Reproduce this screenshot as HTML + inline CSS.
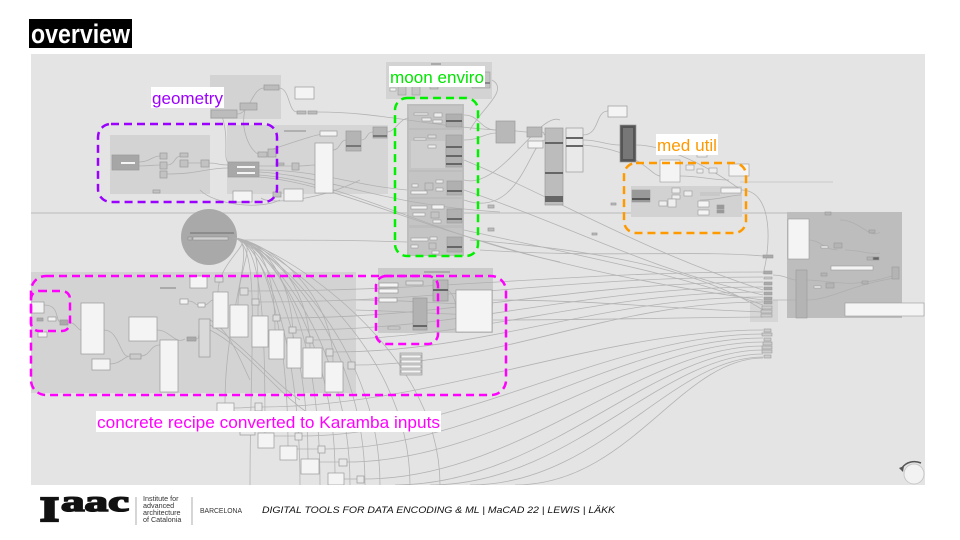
<!DOCTYPE html>
<html><head><meta charset="utf-8"><style>
html,body{margin:0;padding:0;background:#fff;width:960px;height:540px;overflow:hidden;}
svg{display:block;}
</style></head><body>
<svg width="960" height="540" viewBox="0 0 960 540" xmlns="http://www.w3.org/2000/svg">
<defs><clipPath id="cv"><rect x="31" y="54" width="894" height="431"/></clipPath></defs>
<rect width="960" height="540" fill="#fff"/>
<rect x="29" y="19" width="103" height="29" fill="#000"/>
<text x="31" y="43" font-family="Liberation Sans, sans-serif" font-weight="bold" font-size="27" fill="#fff" textLength="99" lengthAdjust="spacingAndGlyphs">overview</text>
<rect x="31" y="54" width="894" height="431" fill="#e4e4e4"/>
<g clip-path="url(#cv)">
<line x1="31" y1="213" x2="787" y2="213" stroke="#c8c8c8" stroke-width="1.5"/>
<line x1="740" y1="182" x2="833" y2="182" stroke="#cfcfcf" stroke-width="1.2"/>
<rect x="210" y="75" width="71" height="44" fill="#d3d3d3"/>
<rect x="110" y="135" width="100" height="59" fill="#d3d3d3"/>
<rect x="227" y="125" width="161" height="69" fill="#d5d5d5"/>
<rect x="386" y="62" width="106" height="37" fill="#d3d3d3"/>
<rect x="407" y="104" width="57" height="152" fill="#bdbdbd"/>
<rect x="409" y="106" width="53" height="22" fill="#c4c4c4"/>
<rect x="409" y="130" width="53" height="40" fill="#c4c4c4"/>
<rect x="411" y="141" width="34" height="27" fill="#cecece"/>
<rect x="409" y="172" width="53" height="25" fill="#c4c4c4"/>
<rect x="409" y="199" width="53" height="26" fill="#c4c4c4"/>
<rect x="409" y="228" width="53" height="27" fill="#c4c4c4"/>
<rect x="631" y="186" width="111" height="31" fill="#d2d2d2"/>
<rect x="787" y="212" width="115" height="106" fill="#bdbdbd"/>
<rect x="31" y="272" width="325" height="121" fill="#d3d3d3"/>
<rect x="378" y="268" width="115" height="65" fill="#cacaca"/>
<rect x="750" y="300" width="28" height="22" fill="#d6d6d6"/>
<circle cx="209" cy="237" r="28" fill="#a9a9a9"/>
<g fill="none" stroke="#aeaeae" stroke-width="0.8" opacity="0.9">
<path d="M139,162 C150,162 152,156 160,156"/>
<path d="M139,166 C150,166 152,165 160,165"/>
<path d="M167,165 C175,165 174,157 180,156"/>
<path d="M188,163 C195,163 195,163 201,163"/>
<path d="M167,174 C200,174 205,168 229,168"/>
<path d="M209,163 C220,163 215,165 229,165"/>
<path d="M237,114 C250,114 252,88 264,88"/>
<path d="M279,88 C290,88 288,112 297,112"/>
<path d="M317,112 C380,112 420,125 496,130"/>
<path d="M222,116 C230,140 222,160 229,163"/>
<path d="M245,110 C240,130 250,150 258,154"/>
<path d="M259,166 C275,166 280,166 292,166"/>
<path d="M299,166 C308,166 308,165 315,165"/>
<path d="M259,170 C320,170 350,185 407,190"/>
<path d="M259,172 C330,176 380,205 500,212"/>
<path d="M259,175 C350,182 430,235 560,262"/>
<path d="M259,177 C360,185 460,260 763,300"/>
<path d="M333,150 C340,150 340,140 346,140"/>
<path d="M361,140 C368,140 366,132 373,132"/>
<path d="M387,132 C395,132 400,118 409,118"/>
<path d="M270,150 C300,140 320,133 330,133"/>
<path d="M261,198 C270,205 320,200 360,180"/>
<path d="M200,190 C215,205 260,210 280,200"/>
<path d="M464,115 C480,115 480,130 496,130"/>
<path d="M464,140 C480,140 485,133 496,133"/>
<path d="M515,131 C520,131 522,132 527,132"/>
<path d="M542,132 C545,132 543,135 545,135"/>
<path d="M583,135 C600,135 595,111 608,111"/>
<path d="M583,140 C600,140 605,145 620,145"/>
<path d="M583,145 C640,150 650,175 660,176"/>
<path d="M636,145 C660,145 700,160 741,190"/>
<path d="M741,190 C775,190 770,250 763,274"/>
<path d="M492,80 C510,90 480,110 470,130"/>
<path d="M464,180 C500,190 540,110 560,120"/>
<path d="M464,200 C520,220 530,140 545,140"/>
<path d="M464,160 C560,200 640,250 763,290"/>
<path d="M464,190 C580,230 650,270 763,295"/>
<path d="M464,230 C600,260 680,275 763,305"/>
<path d="M480,250 C600,258 700,250 763,256"/>
<path d="M238,240 C300,240 350,240 407,242"/>
<path d="M470,240 C600,250 700,270 763,310"/>
<path d="M680,176 C700,176 710,180 729,180"/>
<path d="M700,200 C720,200 730,195 741,195"/>
<path d="M809,240 C820,240 825,250 838,250"/>
<path d="M845,250 C860,250 870,255 880,253"/>
<path d="M807,280 C830,280 850,290 895,275"/>
<path d="M807,300 C830,300 850,285 895,278"/>
<path d="M840,220 C860,220 870,240 880,232"/>
<path d="M773,275 C785,275 790,280 796,280"/>
<path d="M773,300 C785,300 790,300 796,300"/>
<path d="M232,238 C262,238 218,259 218,292"/>
<path d="M232,238 C262,238 238,265 238,305"/>
<path d="M232,238 C262,238 258,269 258,316"/>
<path d="M232,238 C262,238 275,275 275,330"/>
<path d="M232,238 C262,238 293,278 293,338"/>
<path d="M232,238 C262,238 310,282 310,348"/>
<path d="M232,238 C262,238 333,288 333,362"/>
<path d="M232,238 C262,238 225,305 225,403"/>
<path d="M232,238 C262,238 265,316 265,433"/>
<path d="M232,238 C262,238 288,321 288,446"/>
<path d="M232,238 C262,238 308,326 308,459"/>
<path d="M232,238 C262,238 335,332 335,473"/>
<path d="M232,238 C262,238 250,338 250,485"/>
<path d="M232,238 C262,238 300,338 300,485"/>
<path d="M232,238 C262,238 350,338 350,485"/>
<path d="M232,238 C262,238 380,338 380,485"/>
<path d="M232,238 C262,238 410,338 410,485"/>
<path d="M232,238 C262,238 440,338 440,485"/>
<path d="M232,238 C262,238 320,300 320,485"/>
<path d="M232,238 C262,238 365,330 365,485"/>
<path d="M44,305 C60,305 55,320 60,322"/>
<path d="M68,322 C75,322 78,330 81,330"/>
<path d="M104,330 C120,330 120,360 130,356"/>
<path d="M110,364 C120,364 125,356 130,356"/>
<path d="M141,356 C150,356 150,345 160,345"/>
<path d="M157,330 C170,330 175,345 185,339"/>
<path d="M196,339 C200,339 198,335 199,335"/>
<path d="M210,320 C230,330 240,360 250,380"/>
<path d="M210,325 C240,340 270,380 300,400"/>
<path d="M210,330 C250,350 280,400 320,420"/>
<path d="M188,301 C195,301 195,305 198,305"/>
<path d="M205,305 C208,305 210,300 213,300"/>
<path d="M248,291 C450,291 560,272 763,272"/>
<path d="M259,302 C450,302 560,277 763,277"/>
<path d="M280,318 C460,318 570,282 763,282"/>
<path d="M296,330 C470,330 580,287 763,287"/>
<path d="M313,340 C480,340 590,292 763,292"/>
<path d="M333,352 C490,352 600,297 763,297"/>
<path d="M354,365 C500,365 610,302 763,302"/>
<path d="M356,300 C420,300 450,305 493,305"/>
<path d="M356,310 C420,312 450,315 493,315"/>
<path d="M493,300 C600,300 650,308 763,312"/>
<path d="M493,320 C600,320 650,318 763,317"/>
<path d="M448,290 C460,300 455,320 456,325"/>
<path d="M262,407 C430,407 600,330 763,330"/>
<path d="M302,436 C460,436 610,334 763,334"/>
<path d="M325,449 C480,449 620,338 763,338"/>
<path d="M347,462 C500,462 630,342 763,342"/>
<path d="M364,479 C520,479 640,346 763,346"/>
<path d="M395,485 C545,485 650,350 763,350"/>
<path d="M430,485 C570,485 660,354 763,354"/>
<path d="M470,485 C600,485 670,357 763,357"/>
<path d="M515,485 C630,485 680,358 763,358"/>
<path d="M234,408 C245,408 250,407 255,407"/>
<path d="M274,436 C285,436 288,436 295,436"/>
<path d="M297,449 C305,449 310,449 318,449"/>
<path d="M319,462 C330,462 335,462 339,462"/>
<path d="M344,479 C350,479 352,479 357,479"/>
</g>
<g stroke="#9a9a9a" stroke-width="0.7">
<rect x="112" y="155" width="27" height="15" fill="#a6a6a6"/>
<rect x="121" y="162" width="14" height="2" fill="#f4f4f4" stroke="none"/>
<rect x="160" y="153" width="7" height="6" fill="#c2c2c2"/>
<rect x="160" y="162" width="7" height="7" fill="#c2c2c2"/>
<rect x="160" y="171" width="7" height="7" fill="#c2c2c2"/>
<rect x="180" y="153" width="8" height="4" fill="#c2c2c2"/>
<rect x="180" y="160" width="8" height="7" fill="#c2c2c2"/>
<rect x="201" y="160" width="8" height="7" fill="#c2c2c2"/>
<rect x="153" y="190" width="7" height="3" fill="#c2c2c2"/>
<rect x="264" y="85" width="15" height="5" fill="#bcbcbc"/>
<rect x="240" y="103" width="17" height="7" fill="#bcbcbc"/>
<rect x="211" y="110" width="26" height="8" fill="#bcbcbc"/>
<rect x="295" y="87" width="19" height="12" fill="#f4f4f4"/>
<rect x="297" y="111" width="9" height="3" fill="#bcbcbc"/>
<rect x="308" y="111" width="9" height="3" fill="#bcbcbc"/>
<rect x="228" y="162" width="31" height="15" fill="#a8a8a8"/>
<rect x="237" y="166" width="18" height="2" fill="#f4f4f4" stroke="none"/>
<rect x="237" y="172" width="18" height="2" fill="#f4f4f4" stroke="none"/>
<rect x="258" y="152" width="9" height="5" fill="#c2c2c2"/>
<rect x="268" y="149" width="8" height="8" fill="#c2c2c2"/>
<rect x="292" y="163" width="7" height="7" fill="#c2c2c2"/>
<rect x="276" y="163" width="8" height="2" fill="#c2c2c2"/>
<rect x="284" y="130" width="22" height="2" fill="#b0b0b0" stroke="none"/>
<rect x="320" y="131" width="17" height="5" fill="#f4f4f4"/>
<rect x="346" y="131" width="15" height="20" fill="#b4b4b4"/>
<rect x="346" y="145" width="15" height="2" fill="#777" stroke="none"/>
<rect x="373" y="127" width="14" height="11" fill="#b4b4b4"/>
<rect x="373" y="135" width="14" height="2" fill="#777" stroke="none"/>
<rect x="315" y="143" width="18" height="50" fill="#f4f4f4"/>
<rect x="233" y="191" width="19" height="11" fill="#f4f4f4"/>
<rect x="284" y="189" width="19" height="12" fill="#f4f4f4"/>
<rect x="273" y="192" width="8" height="5" fill="#c2c2c2"/>
</g>
<g stroke="#999" stroke-width="0.6">
<rect x="431" y="63" width="10" height="2" fill="#aaa" stroke="none"/>
<rect x="390" y="88" width="6" height="3" fill="#f4f4f4"/>
<rect x="398" y="86" width="8" height="9" fill="#c4c4c4"/>
<rect x="412" y="86" width="8" height="9" fill="#c4c4c4"/>
<rect x="430" y="85" width="8" height="4" fill="#c4c4c4"/>
<rect x="472" y="72" width="18" height="16" fill="#c4c4c4"/>
<rect x="472" y="82" width="18" height="2" fill="#888" stroke="none"/>
<rect x="414" y="113" width="14" height="2" fill="#eee"/>
<rect x="422" y="118" width="9" height="3" fill="#eee"/>
<rect x="434" y="113" width="8" height="4" fill="#eee"/>
<rect x="433" y="120" width="9" height="3" fill="#eee"/>
<rect x="446" y="114" width="16" height="13" fill="#b0b0b0"/>
<rect x="446" y="120" width="16" height="2" fill="#666" stroke="none"/>
<rect x="414" y="138" width="12" height="2" fill="#eee"/>
<rect x="428" y="135" width="8" height="3" fill="#ddd"/>
<rect x="428" y="145" width="8" height="3" fill="#eee"/>
<rect x="446" y="135" width="16" height="32" fill="#b0b0b0"/>
<rect x="446" y="146" width="16" height="2" fill="#666" stroke="none"/>
<rect x="446" y="155" width="16" height="2" fill="#666" stroke="none"/>
<rect x="446" y="163" width="16" height="2" fill="#666" stroke="none"/>
<rect x="412" y="184" width="6" height="3" fill="#eee"/>
<rect x="411" y="191" width="16" height="3" fill="#f4f4f4"/>
<rect x="425" y="183" width="8" height="7" fill="#c4c4c4"/>
<rect x="436" y="180" width="7" height="3" fill="#eee"/>
<rect x="436" y="188" width="7" height="3" fill="#eee"/>
<rect x="447" y="181" width="15" height="14" fill="#b0b0b0"/>
<rect x="447" y="190" width="15" height="2" fill="#666" stroke="none"/>
<rect x="411" y="206" width="16" height="3" fill="#f4f4f4"/>
<rect x="413" y="213" width="12" height="3" fill="#f4f4f4"/>
<rect x="432" y="205" width="12" height="4" fill="#f4f4f4"/>
<rect x="431" y="212" width="8" height="6" fill="#c4c4c4"/>
<rect x="433" y="220" width="8" height="3" fill="#eee"/>
<rect x="447" y="209" width="15" height="14" fill="#b0b0b0"/>
<rect x="447" y="218" width="15" height="2" fill="#666" stroke="none"/>
<rect x="411" y="238" width="17" height="3" fill="#eee"/>
<rect x="411" y="245" width="7" height="3" fill="#eee"/>
<rect x="430" y="237" width="7" height="3" fill="#eee"/>
<rect x="429" y="243" width="7" height="6" fill="#c4c4c4"/>
<rect x="432" y="251" width="7" height="3" fill="#eee"/>
<rect x="447" y="237" width="15" height="15" fill="#b0b0b0"/>
<rect x="447" y="246" width="15" height="2" fill="#666" stroke="none"/>
</g>
<g stroke="#999" stroke-width="0.7">
<rect x="496" y="121" width="19" height="22" fill="#b8b8b8"/>
<rect x="527" y="127" width="15" height="10" fill="#b8b8b8"/>
<rect x="528" y="141" width="15" height="7" fill="#f4f4f4"/>
<rect x="545" y="128" width="18" height="77" fill="#bcbcbc"/>
<rect x="545" y="142" width="18" height="2" fill="#666" stroke="none"/>
<rect x="545" y="172" width="18" height="2" fill="#666" stroke="none"/>
<rect x="545" y="196" width="18" height="6" fill="#666" stroke="none"/>
<rect x="566" y="128" width="17" height="44" fill="#e9e9e9"/>
<rect x="566" y="137" width="17" height="2" fill="#666" stroke="none"/>
<rect x="566" y="145" width="17" height="2" fill="#666" stroke="none"/>
<rect x="608" y="106" width="19" height="11" fill="#f4f4f4"/>
<rect x="620" y="125" width="16" height="37" fill="#555"/>
<rect x="623" y="128" width="10" height="31" fill="#777" stroke="none"/>
<rect x="611" y="203" width="5" height="2" fill="#bbb"/>
<rect x="592" y="233" width="5" height="2" fill="#bbb"/>
<rect x="488" y="205" width="6" height="3" fill="#bbb"/>
<rect x="488" y="228" width="6" height="3" fill="#bbb"/>
</g>
<g stroke="#999" stroke-width="0.6">
<rect x="660" y="160" width="20" height="22" fill="#f4f4f4"/>
<rect x="686" y="165" width="8" height="5" fill="#eee"/>
<rect x="697" y="169" width="6" height="4" fill="#eee"/>
<rect x="709" y="168" width="8" height="5" fill="#eee"/>
<rect x="729" y="164" width="20" height="12" fill="#f4f4f4"/>
<rect x="697" y="154" width="10" height="3" fill="#eee"/>
<rect x="632" y="190" width="18" height="12" fill="#999"/>
<rect x="632" y="198" width="18" height="2" fill="#555" stroke="none"/>
<rect x="672" y="188" width="8" height="5" fill="#eee"/>
<rect x="672" y="195" width="8" height="4" fill="#eee"/>
<rect x="684" y="191" width="8" height="5" fill="#eee"/>
<rect x="659" y="201" width="8" height="5" fill="#eee"/>
<rect x="668" y="199" width="8" height="8" fill="#eee"/>
<rect x="698" y="201" width="11" height="6" fill="#f4f4f4"/>
<rect x="698" y="210" width="11" height="5" fill="#f4f4f4"/>
<rect x="717" y="205" width="7" height="4" fill="#999"/>
<rect x="717" y="210" width="7" height="3" fill="#999"/>
<rect x="721" y="188" width="20" height="5" fill="#f4f4f4"/>
<rect x="700" y="192" width="20" height="4" fill="#c8c8c8" stroke="none"/>
</g>
<g stroke="#999" stroke-width="0.6">
<rect x="788" y="219" width="21" height="40" fill="#f4f4f4"/>
<rect x="796" y="270" width="11" height="48" fill="#b4b4b4"/>
<rect x="831" y="266" width="42" height="4" fill="#f4f4f4"/>
<rect x="892" y="267" width="7" height="12" fill="#b4b4b4"/>
<rect x="845" y="303" width="79" height="13" fill="#f4f4f4"/>
<rect x="825" y="212" width="6" height="3" fill="#b4b4b4"/>
<rect x="869" y="230" width="6" height="3" fill="#b4b4b4"/>
<rect x="821" y="246" width="7" height="2" fill="#f4f4f4"/>
<rect x="834" y="243" width="8" height="5" fill="#b4b4b4"/>
<rect x="867" y="257" width="6" height="3" fill="#b4b4b4"/>
<rect x="873" y="257" width="6" height="3" fill="#666"/>
<rect x="821" y="273" width="6" height="3" fill="#b4b4b4"/>
<rect x="814" y="286" width="7" height="2" fill="#f4f4f4"/>
<rect x="826" y="283" width="8" height="5" fill="#b4b4b4"/>
<rect x="862" y="281" width="6" height="3" fill="#b4b4b4"/>
<rect x="763" y="255" width="10" height="3" fill="#aaa"/>
<rect x="764" y="271" width="8" height="3" fill="#aaa"/>
<rect x="764" y="277" width="8" height="2" fill="#ccc"/>
<rect x="764" y="282" width="8" height="3" fill="#aaa"/>
<rect x="764" y="287" width="8" height="3" fill="#aaa"/>
<rect x="764" y="292" width="8" height="3" fill="#aaa"/>
<rect x="764" y="297" width="8" height="3" fill="#aaa"/>
<rect x="764" y="301" width="8" height="3" fill="#aaa"/>
<rect x="762" y="306" width="10" height="3" fill="#ccc"/>
<rect x="761" y="310" width="11" height="3" fill="#ccc"/>
<rect x="761" y="314" width="11" height="3" fill="#ccc"/>
<rect x="764" y="329" width="7" height="3" fill="#ccc"/>
<rect x="762" y="333" width="10" height="3" fill="#ccc"/>
<rect x="764" y="338" width="7" height="3" fill="#ccc"/>
<rect x="763" y="342" width="9" height="3" fill="#ccc"/>
<rect x="762" y="346" width="10" height="3" fill="#ccc"/>
<rect x="762" y="350" width="10" height="3" fill="#ccc"/>
<rect x="764" y="355" width="7" height="3" fill="#ccc"/>
</g>
<rect x="190" y="232" width="44" height="2" fill="#8c8c8c"/>
<rect x="188" y="237" width="4" height="3" fill="#bbb" stroke="#888" stroke-width="0.5"/>
<rect x="193" y="237" width="35" height="3" fill="#d0d0d0" stroke="#888" stroke-width="0.5"/>
<g stroke="#999" stroke-width="0.7" fill="#f4f4f4">
<rect x="31" y="302" width="13" height="11"/>
<rect x="37" y="318" width="6" height="3" fill="#aaa"/>
<rect x="48" y="317" width="8" height="4"/>
<rect x="60" y="320" width="8" height="5" fill="#aaa"/>
<rect x="38" y="332" width="9" height="5"/>
<rect x="81" y="303" width="23" height="51"/>
<rect x="129" y="317" width="28" height="24"/>
<rect x="92" y="359" width="18" height="11"/>
<rect x="130" y="354" width="11" height="5" fill="#ccc"/>
<rect x="160" y="340" width="18" height="52"/>
<rect x="190" y="276" width="17" height="12"/>
<rect x="215" y="276" width="8" height="6" fill="#ddd"/>
<rect x="160" y="287" width="16" height="2" fill="#aaa" stroke="none"/>
<rect x="180" y="299" width="8" height="5"/>
<rect x="198" y="303" width="7" height="4"/>
<rect x="187" y="337" width="9" height="4" fill="#aaa"/>
<rect x="199" y="319" width="11" height="38" fill="#d9d9d9"/>
<rect x="213" y="292" width="15" height="36"/>
<rect x="230" y="305" width="18" height="32"/>
<rect x="252" y="316" width="16" height="31"/>
<rect x="269" y="330" width="15" height="29"/>
<rect x="287" y="338" width="14" height="30"/>
<rect x="303" y="348" width="19" height="30"/>
<rect x="325" y="362" width="18" height="30"/>
<rect x="240" y="288" width="8" height="7" fill="#ddd"/>
<rect x="252" y="299" width="7" height="6" fill="#ddd"/>
<rect x="273" y="315" width="7" height="6" fill="#ddd"/>
<rect x="289" y="327" width="7" height="6" fill="#ddd"/>
<rect x="306" y="337" width="7" height="6" fill="#ddd"/>
<rect x="326" y="349" width="7" height="7" fill="#ddd"/>
<rect x="348" y="362" width="7" height="7" fill="#ddd"/>
<rect x="379" y="283" width="19" height="4"/>
<rect x="379" y="289" width="19" height="4"/>
<rect x="379" y="298" width="18" height="4"/>
<rect x="406" y="281" width="17" height="4" fill="#ddd"/>
<rect x="388" y="327" width="12" height="2" fill="#ddd"/>
<rect x="413" y="298" width="14" height="32" fill="#b2b2b2"/>
<rect x="413" y="325" width="14" height="2" fill="#666" stroke="none"/>
<rect x="433" y="280" width="15" height="21" fill="#b8b8b8"/>
<rect x="433" y="289" width="15" height="2" fill="#666" stroke="none"/>
<rect x="456" y="290" width="36" height="42"/>
<rect x="424" y="271" width="26" height="2" fill="#aaa" stroke="none"/>
<rect x="400" y="353" width="22" height="22" fill="#d8d8d8"/>
<rect x="401" y="355" width="20" height="3"/>
<rect x="401" y="360" width="20" height="3"/>
<rect x="401" y="365" width="20" height="3"/>
<rect x="401" y="370" width="20" height="3"/>
<rect x="217" y="403" width="17" height="10"/>
<rect x="255" y="403" width="7" height="8" fill="#e8e8e8"/>
<rect x="240" y="430" width="15" height="5" fill="#e8e8e8"/>
<rect x="258" y="433" width="16" height="15"/>
<rect x="280" y="446" width="17" height="14"/>
<rect x="301" y="459" width="18" height="15"/>
<rect x="328" y="473" width="16" height="12"/>
<rect x="295" y="433" width="7" height="7" fill="#e8e8e8"/>
<rect x="318" y="446" width="7" height="7" fill="#e8e8e8"/>
<rect x="339" y="459" width="8" height="7" fill="#e8e8e8"/>
<rect x="357" y="476" width="7" height="7" fill="#e8e8e8"/>
</g>
<circle cx="914" cy="474" r="10" fill="#f2f2f2" stroke="#c8c8c8" stroke-width="1"/>
<path d="M902,468 C906,462 914,460 921,463" fill="none" stroke="#555" stroke-width="1.5"/>
<path d="M899,468 L904,466 L903,472 Z" fill="#555"/>
</g>
<g fill="none" stroke-width="2.5" stroke-dasharray="8 5">
<rect x="98" y="124" width="179" height="78" rx="13" stroke="#9b00ff"/>
<rect x="395" y="98" width="83" height="158" rx="12" stroke="#00f000"/>
<rect x="624" y="163" width="122" height="70" rx="12" stroke="#ff9900"/>
<rect x="31" y="276" width="475" height="119" rx="15" stroke="#ff00ff"/>
<rect x="31" y="291" width="39" height="40" rx="8" stroke="#ff00ff"/>
<rect x="376" y="276" width="62" height="68" rx="10" stroke="#ff00ff"/>
</g>
<g font-family="Liberation Sans, sans-serif" font-size="17">
<rect x="151" y="87" width="73" height="21" fill="#fff"/>
<text x="152" y="104" fill="#9b00ff" textLength="71" lengthAdjust="spacingAndGlyphs">geometry</text>
<rect x="389" y="66" width="96" height="21" fill="#fff"/>
<text x="390" y="83" fill="#00e600" textLength="94" lengthAdjust="spacingAndGlyphs">moon enviro</text>
<rect x="656" y="134" width="62" height="21" fill="#fff"/>
<text x="657" y="151" fill="#ff9900" textLength="60" lengthAdjust="spacingAndGlyphs">med util</text>
<rect x="96" y="411" width="345" height="21" fill="#fff"/>
<text x="97" y="428" fill="#ff00ff" textLength="343" lengthAdjust="spacingAndGlyphs">concrete recipe converted to Karamba inputs</text>
</g>
<text x="40" y="521" font-family="Liberation Serif, serif" font-weight="bold" font-size="35" fill="#111" stroke="#111" stroke-width="2.2" textLength="19" lengthAdjust="spacingAndGlyphs">I</text>
<text x="61" y="511" font-family="Liberation Serif, serif" font-weight="bold" font-size="30" fill="#111" stroke="#111" stroke-width="1.6" textLength="68" lengthAdjust="spacingAndGlyphs">aac</text>
<line x1="136" y1="497" x2="136" y2="525" stroke="#888" stroke-width="0.7"/>
<g font-family="Liberation Sans, sans-serif" font-size="7.2" fill="#333">
<text x="143" y="501">Institute for</text>
<text x="143" y="508">advanced</text>
<text x="143" y="515">architecture</text>
<text x="143" y="522">of Catalonia</text>
</g>
<line x1="192" y1="497" x2="192" y2="525" stroke="#888" stroke-width="0.7"/>
<text x="200" y="513" font-family="Liberation Sans, sans-serif" font-size="7" fill="#333" textLength="42" lengthAdjust="spacingAndGlyphs">BARCELONA</text>
<text x="262" y="513" font-family="Liberation Sans, sans-serif" font-style="italic" font-size="9.5" fill="#111" textLength="353" lengthAdjust="spacingAndGlyphs">DIGITAL TOOLS FOR DATA ENCODING &amp; ML | MaCAD 22 | LEWIS | LÄKK</text>
</svg>
</body></html>
